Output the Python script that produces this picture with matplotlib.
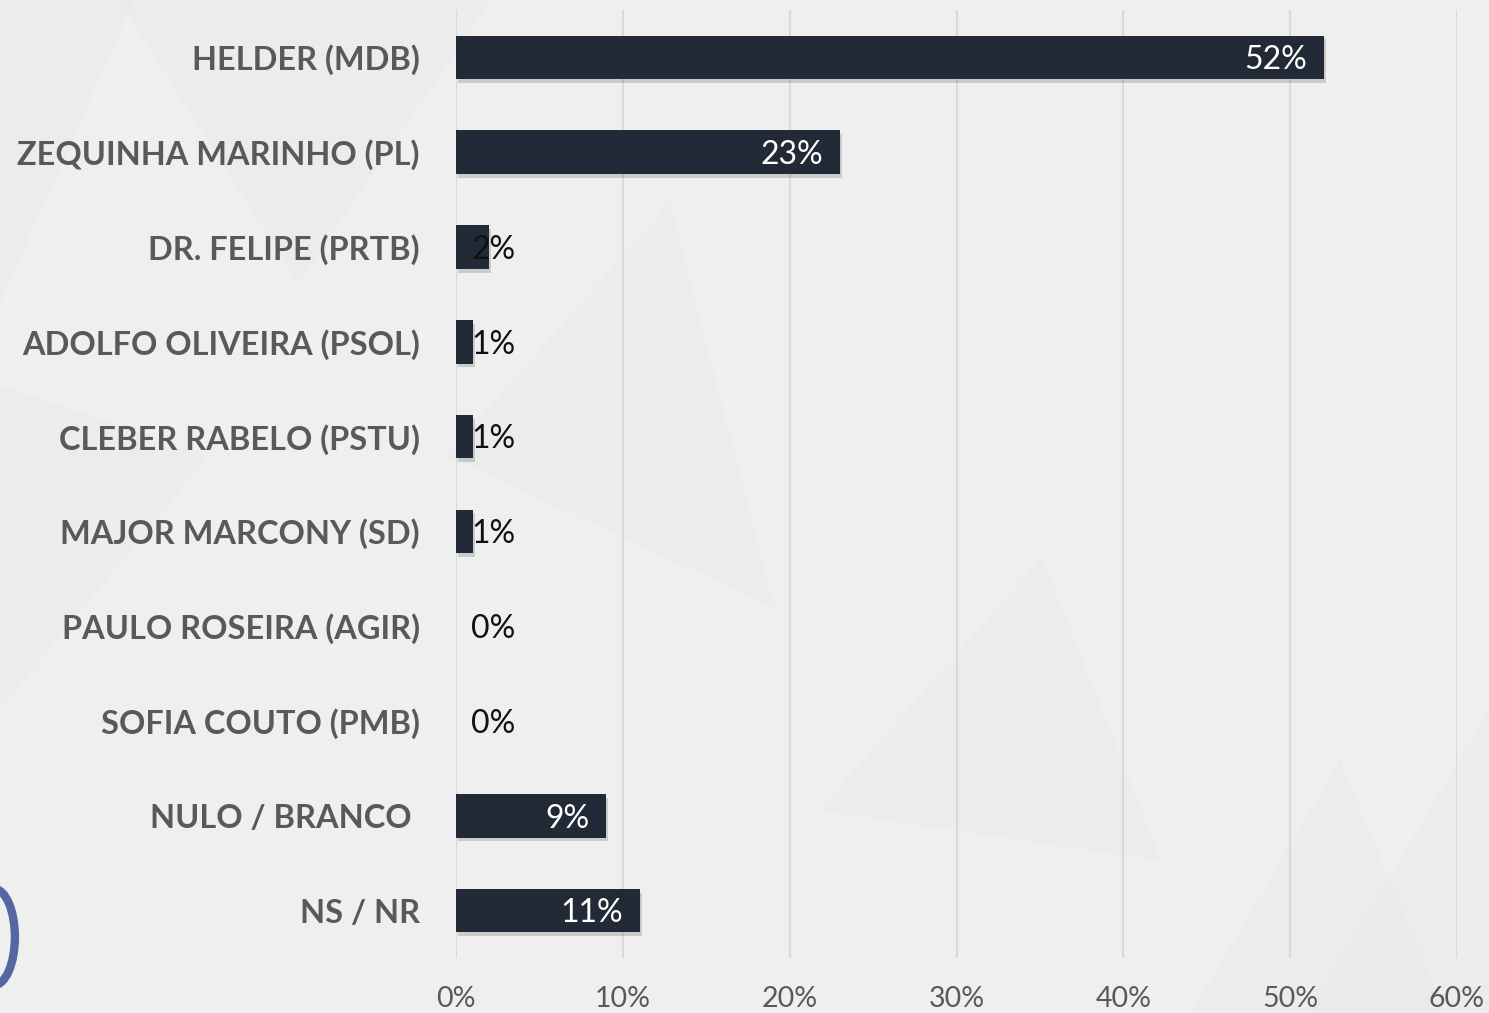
import matplotlib.pyplot as plt
from matplotlib.patches import Polygon, Ellipse

# data
candidatos = ["HELDER (MDB)", "ZEQUINHA MARINHO (PL)", "DR. FELIPE (PRTB)",
              "ADOLFO OLIVEIRA (PSOL)", "CLEBER RABELO (PSTU)",
              "MAJOR MARCONY (SD)", "PAULO ROSEIRA (AGIR)",
              "SOFIA COUTO (PMB)", "NULO / BRANCO ", "NS / NR"]
percentuais = [52, 23, 2, 1, 1, 1, 0, 0, 9, 11]
ticks = [0, 10, 20, 30, 40, 50, 60]
tick_labels = ["0%", "10%", "20%", "30%", "40%", "50%", "60%"]

bar_color = '#222a37'
text_gray = '#595959'

plt.rcParams['font.family'] = ['Lato', 'DejaVu Sans']

fig = plt.figure(figsize=(14.89, 10.13), dpi=100)
fig.patch.set_facecolor('#efefef')

# faint background triangles
bg = fig.add_axes([0, 0, 1, 1], zorder=0)
bg.set_xlim(0, 1)
bg.set_ylim(0, 1)
bg.axis('off')
tris = [
    [(0.0, 1.0), (0.09, 1.0), (0.0, 0.70)],
    [(0.08, 1.0), (0.33, 1.0), (0.20, 0.72)],
    [(0.30, 0.55), (0.45, 0.80), (0.52, 0.40)],
    [(0.0, 0.30), (0.14, 0.55), (0.0, 0.62)],
    [(0.80, 0.0), (0.97, 0.0), (0.90, 0.25)],
    [(0.88, 0.0), (1.0, 0.0), (1.0, 0.30)],
    [(0.55, 0.20), (0.70, 0.45), (0.78, 0.15)],
]
for t in tris:
    bg.add_patch(Polygon(t, closed=True, color='#e8e8e8', alpha=0.35, lw=0))
# logo fragment at the left edge
bg.add_patch(Ellipse((-0.004, 0.075), 0.028, 0.095, fill=False,
                     edgecolor='#5566a0', lw=6))

ax = fig.add_axes([456 / 1489, 55 / 1013, 1001 / 1489, 948 / 1013])
ax.set_facecolor('none')

y = list(range(len(candidatos)))

# soft shadow under the bars
ax.barh([v + 0.04 for v in y], percentuais, height=0.46, left=0.12,
        color='#000000', alpha=0.15, zorder=2)
ax.barh(y, percentuais, height=0.46, color=bar_color, zorder=3)

for i, v in enumerate(percentuais):
    if v >= 5:
        ax.annotate(f"{v}%", (v, i), xytext=(-12, -2),
                    textcoords='offset points', ha='right', va='center',
                    color='white', fontsize=23, zorder=4)
    else:
        ax.annotate(f"{v}%", (0, i), xytext=(11, -2),
                    textcoords='offset points', ha='left', va='center',
                    color='#111111', fontsize=23, zorder=4)

ax.set_xlim(0, 60)
ax.set_ylim(len(candidatos) - 0.5, -0.5)
ax.set_xticks(ticks)
ax.set_xticklabels(tick_labels, fontsize=20.5, color=text_gray)
ax.set_yticks(y)
ax.set_yticklabels(candidatos, fontsize=23.4, fontweight='bold',
                   color=text_gray)
ax.tick_params(axis='both', length=0)
ax.tick_params(axis='y', pad=26)
ax.tick_params(axis='x', pad=20)
ax.grid(axis='x', color='#d9d9d9', lw=1.5, zorder=1)
ax.set_axisbelow(True)
for s in ax.spines.values():
    s.set_visible(False)

fig.savefig('out.png', dpi=100, facecolor=fig.get_facecolor())
